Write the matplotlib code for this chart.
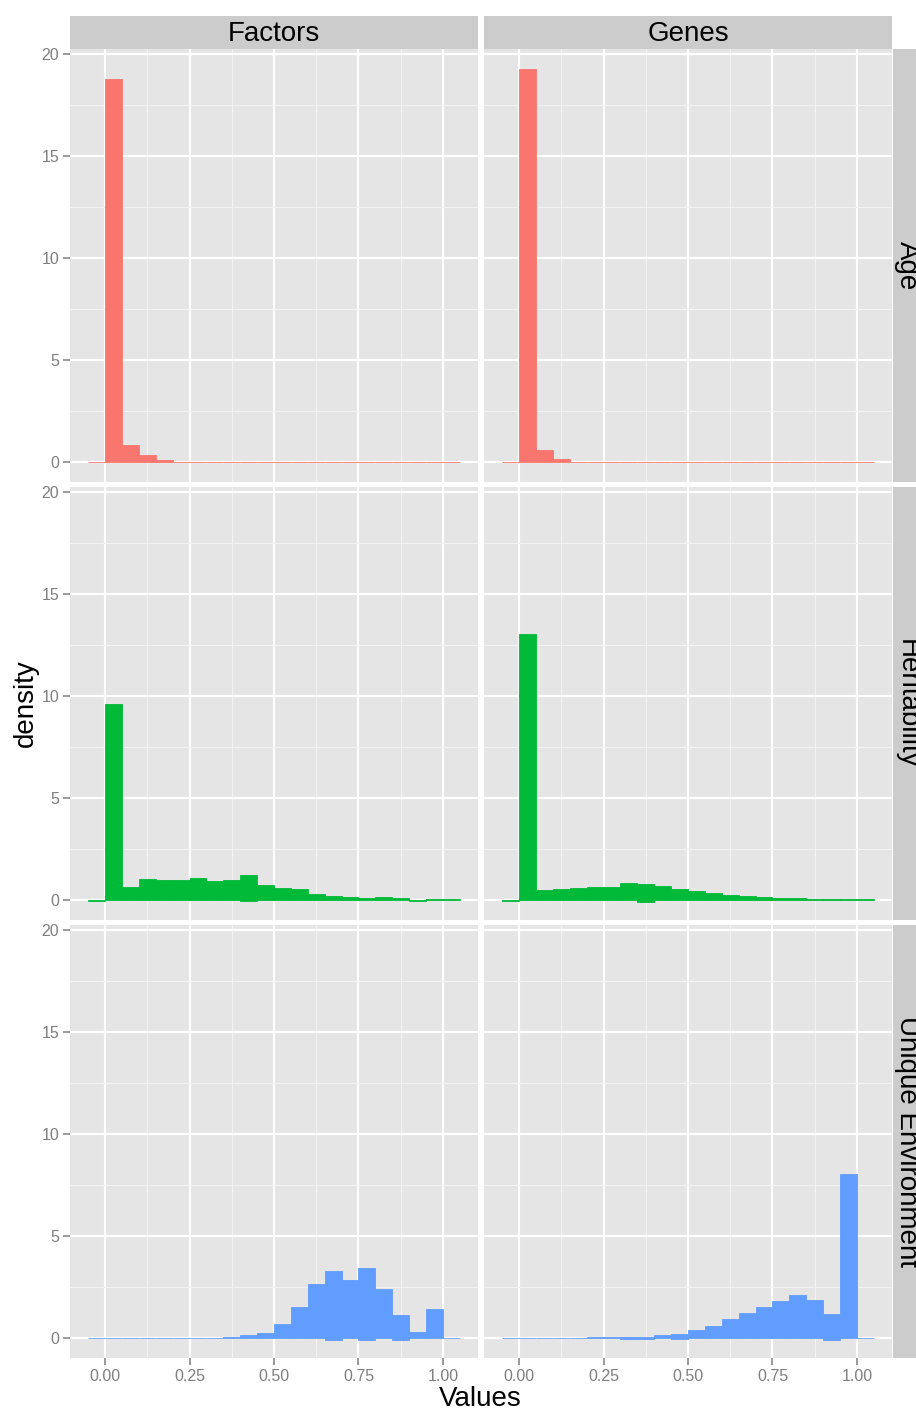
import numpy as np
import matplotlib
matplotlib.use("Agg")
import matplotlib.pyplot as plt

plt.rcParams["font.family"] = ["Liberation Sans", "DejaVu Sans"]

# histogram bins: left edges, width 0.05
bin_left = np.linspace(-0.05, 1.0, 22)
bin_width = 0.05

col_labels = ["Factors", "Genes"]
row_labels = ["Age", "Heritability", "Unique Environment"]
row_colors = ["#F8766D", "#00BA38", "#619CFF"]

# densities, one list per panel
age_factors = [0, 18.77, 0.83, 0.34, 0.10, 0, 0, 0, 0, 0, 0,
               0, 0, 0, 0, 0, 0, 0, 0, 0, 0, 0]
age_genes = [0, 19.26, 0.59, 0.15, 0, 0, 0, 0, 0, 0, 0,
             0, 0, 0, 0, 0, 0, 0, 0, 0, 0, 0]
her_factors = [0, 9.6, 0.64, 1.03, 0.98, 0.98, 1.08, 0.93, 0.98, 1.23, 0.74,
               0.59, 0.54, 0.29, 0.20, 0.15, 0.10, 0.15, 0.10, 0, 0.05, 0.05]
her_genes = [0, 13.04, 0.49, 0.54, 0.59, 0.64, 0.64, 0.83, 0.78, 0.69, 0.54,
             0.44, 0.34, 0.25, 0.20, 0.15, 0.10, 0.10, 0.05, 0.05, 0.05, 0.05]
ue_factors = [0, 0, 0, 0, 0, 0, 0, 0, 0.05, 0.15, 0.25,
              0.69, 1.52, 2.65, 3.28, 2.84, 3.43, 2.40, 1.13, 0.29, 1.42, 0]
ue_genes = [0, 0, 0, 0, 0, 0.05, 0.05, 0.05, 0.05, 0.15, 0.20,
            0.39, 0.59, 0.93, 1.23, 1.52, 1.81, 2.11, 1.86, 1.18, 8.04, 0]

# small parts of some bars that sit just below zero
her_factors_low = [-0.03, 0, 0, 0, 0, 0, 0, 0, 0, -0.06, 0,
                   0, 0, 0, 0, 0, 0, 0, 0, -0.05, 0, 0]
her_genes_low = [-0.05, 0, 0, 0, 0, 0, 0, 0, -0.08, 0, 0,
                 0, 0, 0, 0, 0, 0, 0, 0, 0, 0, 0]
ue_factors_low = [0, 0, 0, 0, 0, 0, 0, 0, 0, 0, 0,
                  0, 0, 0, -0.08, 0, -0.08, 0, -0.08, 0, 0, 0]
ue_genes_low = [0, 0, 0, 0, 0, 0, 0, -0.05, -0.05, 0, -0.05,
                0, 0, 0, 0, 0, 0, 0, 0, -0.08, 0, 0]
zero_low = [0] * 22

panels = [
    [(age_factors, zero_low), (age_genes, zero_low)],
    [(her_factors, her_factors_low), (her_genes, her_genes_low)],
    [(ue_factors, ue_factors_low), (ue_genes, ue_genes_low)],
]

W, H = 916, 1411
fig = plt.figure(figsize=(W / 100, H / 100), dpi=100)


def box(x0, y0, w, h):
    return [x0 / W, 1 - (y0 + h) / H, w / W, h / H]


col_x = [70, 484]
row_y = [49, 487, 925]
pw, ph = 408, 433
tick_col = "#7F7F7F"

for r in range(3):
    for c in range(2):
        vals, low = panels[r][c]
        vals = np.array(vals)
        low = np.array(low)
        ax = fig.add_axes(box(col_x[c], row_y[r], pw, ph))
        ax.set_facecolor("#E5E5E5")
        for s in ax.spines.values():
            s.set_visible(False)
        ax.set_xlim(-0.1036, 1.1036)
        ax.set_ylim(-0.98, 20.25)
        ax.set_xticks([0, 0.25, 0.5, 0.75, 1.0])
        ax.set_xticks([0.125, 0.375, 0.625, 0.875], minor=True)
        ax.set_yticks([0, 5, 10, 15, 20])
        ax.set_yticks([2.5, 7.5, 12.5, 17.5], minor=True)
        ax.set_axisbelow(True)
        ax.grid(which="major", color="white", linewidth=1.6)
        ax.grid(which="minor", color="#F2F2F2", linewidth=0.8)
        ax.tick_params(which="minor", length=0)
        ax.tick_params(which="major", length=4.7, width=1.1, color=tick_col,
                       labelcolor=tick_col, labelsize=11.5, pad=3)
        ax.bar(bin_left, vals - low, width=bin_width, bottom=low, align="edge",
               color=row_colors[r], edgecolor=row_colors[r], linewidth=0.6)
        ax.set_xticklabels(["0.00", "0.25", "0.50", "0.75", "1.00"])
        if c != 0:
            ax.tick_params(axis="y", left=False, labelleft=False)
        if r != 2:
            ax.tick_params(axis="x", bottom=False, labelbottom=False)

# top strips
for c in range(2):
    sx = fig.add_axes(box(col_x[c], 16, pw, 33))
    sx.set_facecolor("#CCCCCC")
    sx.set_xticks([])
    sx.set_yticks([])
    for s in sx.spines.values():
        s.set_visible(False)
    sx.text(0.5, 0.45, col_labels[c], ha="center", va="center", fontsize=20,
            transform=sx.transAxes)

# right strips (cut by the figure edge, as in the original)
for r in range(3):
    sy = fig.add_axes(box(893, row_y[r], 28, ph))
    sy.set_facecolor("#CCCCCC")
    sy.set_xticks([])
    sy.set_yticks([])
    for s in sy.spines.values():
        s.set_visible(False)
    sy.text(0.5, 0.5, row_labels[r], ha="center", va="center", fontsize=20,
            rotation=-90, transform=sy.transAxes)

fig.text(480 / W, 1 - 1399 / H, "Values", ha="center", va="center", fontsize=20)
fig.text(26 / W, 1 - 703 / H, "density", ha="center", va="center", fontsize=20,
         rotation=90)

fig.savefig("out.png", dpi=100)
